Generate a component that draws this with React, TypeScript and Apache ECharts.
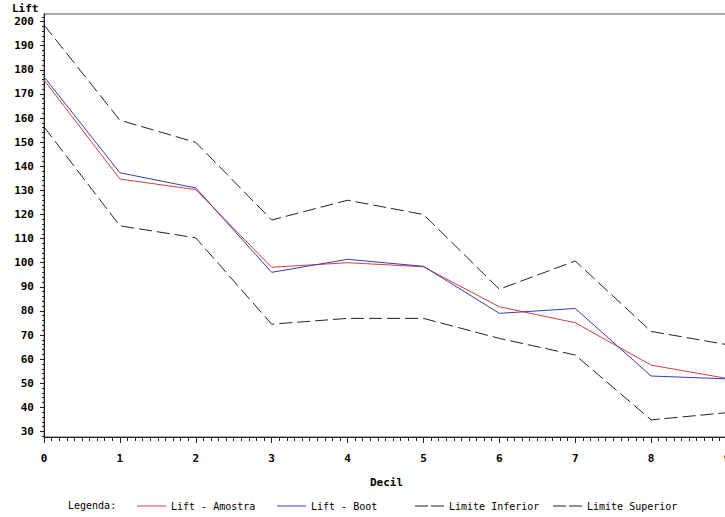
import React, { useEffect, useRef } from "react";
import * as echarts from "echarts";

const deciles = [0, 1, 2, 3, 4, 5, 6, 7, 8, 9];
const liftAmostra = [175.8, 134.7, 130.3, 98.1, 100, 98.3, 81.7, 75.1, 57.5, 52];
const liftBoot = [177.1, 137.3, 131, 96, 101.4, 98.5, 79, 81, 53, 51.8];
const limiteInferior = [156.3, 115.3, 110.3, 74.5, 76.9, 76.9, 68.6, 61.7, 34.8, 37.8];
const limiteSuperior = [198.6, 159.1, 149.9, 117.7, 125.9, 120, 89, 100.7, 71.5, 66];
const yLabels = [30, 40, 50, 60, 70, 80, 90, 100, 110, 120, 130, 140, 150, 160, 170, 180, 190, 200];
const yMinorTicks = [28, 32, 34, 36, 38, 42, 44, 46, 48, 52, 54, 56, 58, 62, 64, 66, 68, 72, 74, 76, 78, 82, 84, 86, 88, 92, 94, 96, 98, 102, 104, 106, 108, 112, 114, 116, 118, 122, 124, 126, 128, 132, 134, 136, 138, 142, 144, 146, 148, 152, 154, 156, 158, 162, 164, 166, 168, 172, 174, 176, 178, 182, 184, 186, 188, 192, 194, 196, 198, 202];

const seriesNames = ["Lift - Amostra", "Lift - Boot", "Limite Inferior", "Limite Superior"];
const FONT = "'DejaVu Sans Mono', 'Liberation Mono', monospace";

const SOLID_ICON = "path://M0,0H30V1H0Z";
const DASHED_ICON = "path://M0,0H13V1H0Z M16,0H29V1H16Z";

export default function App() {
  const ref = useRef<HTMLDivElement>(null);
  useEffect(() => {
    if (!ref.current) return;
    const chart = echarts.init(ref.current, null, { renderer: "svg" });
    const pairs = (ys: number[]) => deciles.map((x, i) => [x, ys[i]]);
    const legendLefts = [137, 277, 415, 553];
    const legendIcons = [SOLID_ICON, SOLID_ICON, DASHED_ICON, DASHED_ICON];
    chart.setOption({
      animation: false,
      backgroundColor: "#ffffff",
      grid: {
        left: 44,
        top: 14,
        width: 683,
        height: 423,
        show: true,
        borderColor: "#555",
        borderWidth: 1,
      },
      xAxis: {
        type: "value",
        min: 0,
        max: 9,
        interval: 1,
        axisLine: { show: true, lineStyle: { color: "#222", width: 1 } },
        axisTick: { show: true, length: 6, lineStyle: { color: "#222" } },
        minorTick: { show: true, splitNumber: 10, length: 4, lineStyle: { color: "#222" } },
        splitLine: { show: false },
        minorSplitLine: { show: false },
        axisLabel: {
          margin: 16,
          fontFamily: FONT,
          fontWeight: "bold",
          fontSize: 11,
          color: "#000",
          showMaxLabel: true,
        },
      },
      yAxis: [
        {
          type: "value",
          min: 27.7,
          max: 203.15,
          position: "left",
          axisLine: { show: true, lineStyle: { color: "#222", width: 1 } },
          axisTick: { show: true, length: 4, customValues: yLabels, lineStyle: { color: "#222" } },
          splitLine: { show: false },
          axisLabel: {
            customValues: yLabels,
            margin: 10,
            fontFamily: FONT,
            fontWeight: "bold",
            fontSize: 11,
            color: "#000",
          },
        },
        {
          type: "value",
          min: 27.7,
          max: 203.15,
          position: "left",
          axisLine: { show: false },
          axisTick: { show: true, length: 2, customValues: yMinorTicks, lineStyle: { color: "#222" } },
          splitLine: { show: false },
          axisLabel: { show: false },
        },
      ],
      legend: seriesNames.map((name, i) => ({
        data: [{ name, icon: legendIcons[i] }],
        left: legendLefts[i],
        top: 500,
        itemWidth: 29,
        itemHeight: 1,
        itemGap: 5,
        padding: 0,
        selectedMode: false,
        textStyle: { fontFamily: FONT, fontSize: 10, color: "#000", lineHeight: 12 },
      })),
      graphic: [
        {
          type: "text",
          left: 12,
          top: 3,
          style: { text: "Lift", font: `bold 11px ${FONT}`, fill: "#000" },
        },
        {
          type: "text",
          left: 370,
          top: 477,
          style: { text: "Decil", font: `bold 11px ${FONT}`, fill: "#000" },
        },
        {
          type: "text",
          left: 68,
          top: 500,
          style: { text: "Legenda:", font: `10px ${FONT}`, fill: "#000" },
        },
      ],
      series: [
        {
          name: seriesNames[0],
          type: "line",
          data: pairs(liftAmostra),
          symbol: "none",
          color: "#d83a3a",
          lineStyle: { width: 1, color: "#d83a3a" },
        },
        {
          name: seriesNames[1],
          type: "line",
          data: pairs(liftBoot),
          symbol: "none",
          color: "#3a3ab4",
          lineStyle: { width: 1, color: "#3a3ab4" },
        },
        {
          name: seriesNames[2],
          type: "line",
          data: pairs(limiteInferior),
          symbol: "none",
          color: "#222",
          lineStyle: { width: 1, color: "#222", type: [13, 5] },
        },
        {
          name: seriesNames[3],
          type: "line",
          data: pairs(limiteSuperior),
          symbol: "none",
          color: "#222",
          lineStyle: { width: 1, color: "#222", type: [13, 5] },
        },
      ],
    });
    return () => chart.dispose();
  }, []);
  return (
    <div style={{ position: "fixed", left: 0, top: 0, width: 725, height: 517, overflow: "hidden", background: "#fff" }}>
      <div ref={ref} style={{ width: 800, height: 517 }} />
    </div>
  );
}
